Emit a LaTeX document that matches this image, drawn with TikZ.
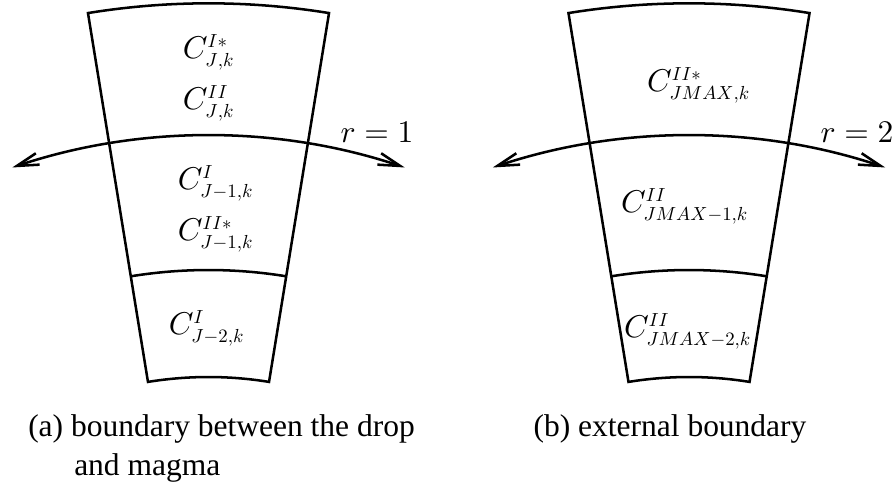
\documentclass[tikz,border=0pt]{standalone}
\usepackage[no-math]{fontspec}
\setmainfont{Liberation Serif}
\usepackage{graphicx}
\usetikzlibrary{arrows.meta}
\newcommand\smx[1]{\scalebox{0.6}{$#1$}}
\begin{document}
\begin{tikzpicture}[x=0.3175pt,y=-0.3175pt,line width=0.8pt,
  cell/.style={inner sep=0pt},
  rlabel/.style={inner sep=0pt},
  captext/.style={inner sep=0pt,anchor=base west},
  bnd/.style={{Straight Barb[length=7pt,width=3.8pt]}-{Straight Barb[length=7pt,width=3.8pt]}}]
\useasboundingbox (0,0) rectangle (896,486);
\foreach \cx in {208.5,689}{
  \begin{scope}[shift={(\cx,754)}]
    \draw (-99.24:750.7) arc[start angle=-99.24,end angle=-80.76,radius=750.7]
      -- (-80.76:377) arc[start angle=-80.76,end angle=-99.24,radius=377] -- cycle;
    \draw (-99.24:484) arc[start angle=-99.24,end angle=-80.76,radius=484];
    \draw[bnd] (-108.5:618.5) arc[start angle=-108.5,end angle=-71.5,radius=618.5];
  \end{scope}
}
% panel (a)
\node[cell] (a1) at (209,52) {$C^{\smx{I*}}_{\smx{J{,}k}}$};
\node[cell] (a2) at (209,103) {$C^{\smx{II}}_{\smx{J{,}k}}$};
\node[cell] (a3) at (216,183) {$C^{\smx{I}}_{\smx{J{-}1{,}k}}$};
\node[cell] (a4) at (216,234) {$C^{\smx{II*}}_{\smx{J{-}1{,}k}}$};
\node[cell] (a5) at (207,328) {$C^{\smx{I}}_{\smx{J{-}2{,}k}}$};
\node[rlabel] (ra) at (377,132) {$r=1$};
\node[captext] (capa1) at (27,436) {(a) boundary between the drop};
\node[captext] (capa2) at (73,475) {and magma};
% panel (b)
\node[cell] (b1) at (699,85) {$C^{\smx{II*}}_{\smx{JMAX{,}k}}$};
\node[cell] (b2) at (685,206) {$C^{\smx{II}}_{\smx{JMAX{-}1{,}k}}$};
\node[cell] (b3) at (688,331) {$C^{\smx{II}}_{\smx{JMAX{-}2{,}k}}$};
\node[rlabel] (rb) at (857,132) {$r=2$};
\node[captext,anchor=base] (capb) at (670,436) {(b) external boundary};
\end{tikzpicture}
\end{document}
